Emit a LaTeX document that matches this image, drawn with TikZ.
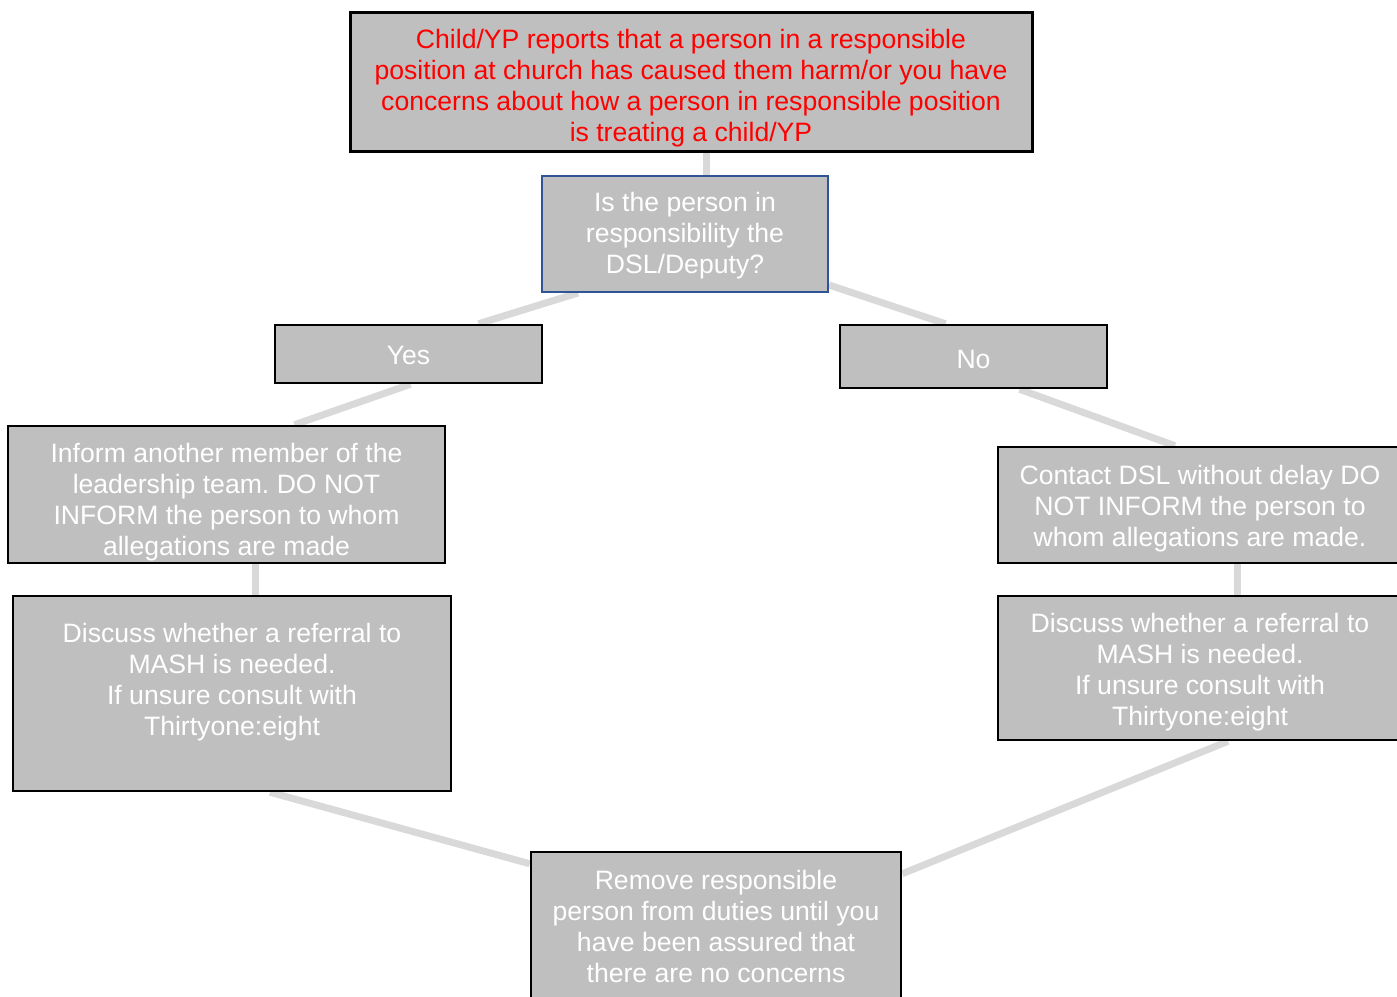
\documentclass[tikz,border=0pt]{standalone}
\usepackage{fontspec}
\setmainfont{Liberation Sans}
\usetikzlibrary{positioning,calc,backgrounds}
\definecolor{boxgray}{HTML}{BFBFBF}
\definecolor{linkgray}{HTML}{D9D9D9}
\definecolor{askblue}{HTML}{2F5597}
\definecolor{alarm}{HTML}{FF0000}
\frenchspacing
% invisible strut that pushes the first line of a box down
\newcommand{\topstrut}[1]{\rule{0pt}{#1pt}}

\begin{document}
\begin{tikzpicture}[x=1pt, y=-1pt,
  box/.style={draw=black, line width=2.5pt, fill=boxgray, text=white,
    align=center, inner sep=0pt, font=\fontsize{26.6}{31}\selectfont},
  link/.style={linkgray, line width=7pt}]
  \clip (0,0) rectangle (1397,996);

  \node[box, line width=3pt, text=alarm, minimum width=682, minimum height=139] (report) at (691,81.5)
    {\topstrut{33.4}Child/YP reports that a person in a responsible\\position at church has caused them harm/or you have\\concerns about how a person in responsible position\\is treating a child/YP};
  \node[box, draw=askblue, line width=2pt, minimum width=286, minimum height=116] (ask) at (685,234)
    {\topstrut{23.4}Is the person in\\responsibility the\\DSL/Deputy?};
  \node[box, minimum width=267, minimum height=58] (yes) at (408.5,354) {\topstrut{21.4}Yes};
  \node[box, minimum width=267, minimum height=63] (no) at (973.5,356.5) {\topstrut{23.4}No};

  \node[box, minimum width=437, minimum height=137] (inform) at (226.5,494.5)
    {\topstrut{35.4}Inform another member of the\\leadership team. DO NOT\\INFORM the person to whom\\allegations are made};
  \node[box, minimum width=438, minimum height=195] (discleft) at (232,693.5)
    {\topstrut{21.4}Discuss whether a referral to\\MASH is needed.\\If unsure consult with\\Thirtyone:eight\\\mbox{}};

  \node[box, minimum width=404, minimum height=116] (contact) at (1200,505)
    {\topstrut{27.4}Contact DSL without delay DO\\NOT INFORM the person to\\whom allegations are made.};
  \node[box, minimum width=404, minimum height=144] (discright) at (1200,668)
    {\topstrut{27.4}Discuss whether a referral to\\MASH is needed.\\If unsure consult with\\Thirtyone:eight};

  \node[box, minimum width=370, minimum height=148] (remove) at (716,926)
    {Remove responsible\\person from duties until you\\have been assured that\\there are no concerns};

  % connectors behind the boxes
  \begin{scope}[on background layer]
    \draw[link] ([xshift=15pt]report.south) -- ([xshift=21pt]ask.north);
    \draw[link] ([xshift=-107pt]ask.south) -- ([xshift=70pt]yes.north);
    \draw[link] ([xshift=2pt]yes.south) -- ([xshift=68pt]inform.north);
    \draw[link] ([yshift=8pt]ask.south east) -- ([xshift=-28pt]no.north);
    \draw[link] ([xshift=46pt]no.south) -- ([xshift=-25pt]contact.north);
    \draw[link] ([xshift=28.5pt]inform.south) -- ([xshift=23pt]discleft.north);
    \draw[link] ([xshift=37pt]contact.south) -- ([xshift=37pt]discright.north);
    \draw[link] ([xshift=38pt]discleft.south) -- ([yshift=-13pt]remove.north west);
    \draw[link] ([xshift=28pt]discright.south) -- ([yshift=-23pt]remove.north east);
  \end{scope}
\end{tikzpicture}
\end{document}
